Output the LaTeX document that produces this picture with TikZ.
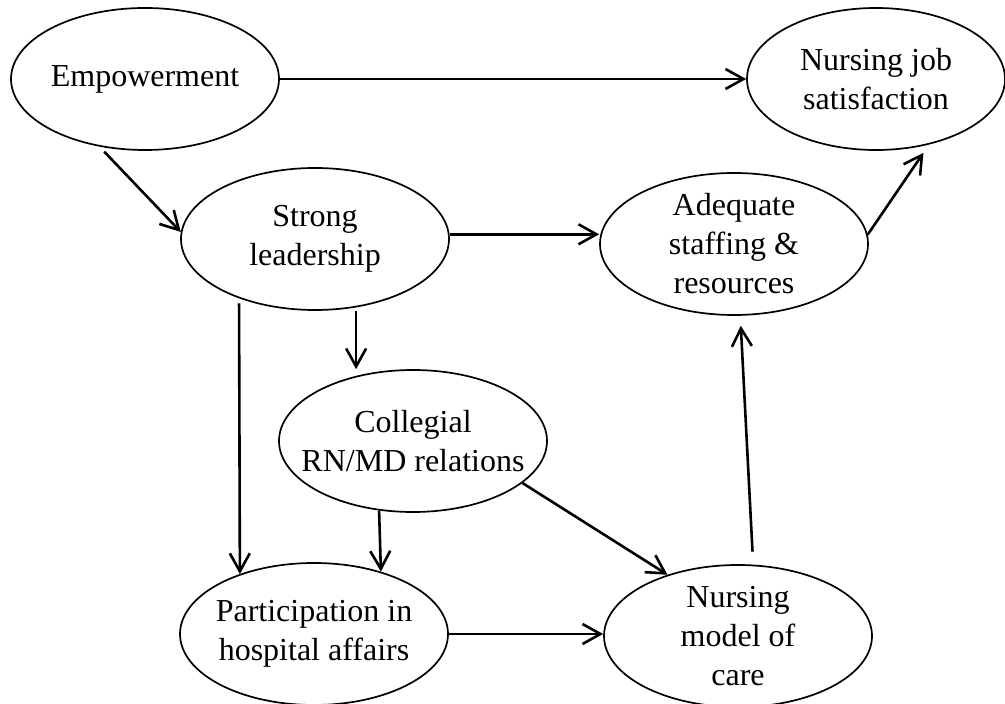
\documentclass[tikz,border=0pt]{standalone}
\usepackage{fontspec}
\setmainfont{Liberation Serif}
\usetikzlibrary{arrows.meta,shapes.geometric}

\begin{document}
\begin{tikzpicture}[x=0.5pt, y=-0.5pt,
    bubble/.style={draw, ellipse, line width=0.85pt, minimum width=134pt, minimum height=71pt,
        inner xsep=-20pt, inner ysep=-12pt, align=center, font=\fontsize{16}{19.5}\selectfont},
    arr/.style={-{Straight Barb[length=9pt,width=10pt]}, line width=1.3pt}]
    \useasboundingbox (0,0) rectangle (1005,704);

    % top row
    \node[bubble] (emp) at (145,79) {Empowerment};
    \node[bubble, minimum width=129pt] (njs) at (876,79) {Nursing job\\satisfaction};

    % middle
    \node[bubble] (str) at (315,239) {Strong\\leadership};
    \node[bubble] (adq) at (734,244) {Adequate\\staffing \&\\resources};
    \node[bubble] (col) at (413,441) {Collegial\\RN/MD relations};

    % bottom row
    \node[bubble] (par) at (314,634) {Participation in\\hospital affairs};
    \node[bubble] (nmc) at (738,636) {Nursing\\model of\\care};

    % arrows
    \draw[arr] (emp.east) -- (njs.west);
    \draw[arr, shorten <=3.5pt] (emp.236) -- (str.177);
    \draw[arr] (str.2.5) -- (str.2.5 -| adq.west);
    \draw[arr, shorten >=5pt] (adq.4.7) -- (njs.309);
    \draw[arr, shorten <=2pt] (str.301) -- (str.301 |- col.north);
    \draw[arr, shorten <=2.5pt] (str.218.6) -- (par.141.4);
    \draw[arr] (col.244.4) -- (par.43.1);
    \draw[arr] (col.339.6) -- (nmc.139.5);
    \draw[arr] (par.east) -- (par.east -| nmc.west);
    \draw[arr, shorten <=6.5pt, shorten >=5pt] (nmc.78.6) -- (adq.275.6);
\end{tikzpicture}
\end{document}
